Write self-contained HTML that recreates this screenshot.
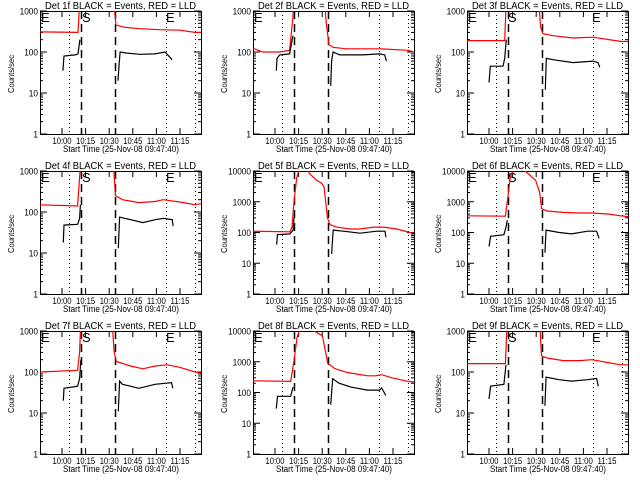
<!DOCTYPE html>
<html><head><meta charset="utf-8"><style>
body{margin:0;background:#fff;width:640px;height:480px;overflow:hidden}
svg{display:block;font-family:"Liberation Sans",sans-serif}
</style></head><body>
<svg id="c" width="640" height="480" viewBox="0 0 640 480"></svg>
<script>
const detNames=["1f","2f","3f","4f","5f","6f","7f","8f","9f"];
const yTops=[1000,1000,1000,1000,10000,10000,1000,10000,1000];
const xTickLabels=["10:00","10:15","10:30","10:45","11:00","11:15"];
const xTickMinutes=[0,15,30,45,60,75];
const dottedMinutes=[4.5,66,84.5];
const dashedMinutes=[12,33.5];
// times in minutes after 10:00; null value = gap
const redT1=[-14,10.2,11.4,null,33,34.3,40,49.6,62.3,75,84.5,88.4];
const redV1=[310,300,2000,null,1500,450,400,370,350,340,300,300];
const blkT1=[0.6,1.3,8.3,10.2,11.4,null,35.6,36.2,36.9,40,49.6,59,65.5,70];
const blkV1=[35,80,85,90,200,null,20,45,100,95,88,90,100,65];
const redT2=[-14,-13,-7.6,3,9.3,11.4,12.1,null,31.6,32.6,34.3,36.9,45.3,66.5,84.5,88.4];
const redV2=[120,120,100,100,110,700,1500,null,1500,500,150,130,120,120,110,100];
const blkT2=[0.8,1.3,3,9.3,11.4,null,35.4,36,36.9,41.1,55.9,66.5,69.7,70.8];
const blkV2=[35,70,85,90,250,null,15,60,100,85,85,90,85,60];
const redT3=[-14,10,11,null,31.8,32.8,34.3,40.7,53.4,66.1,84.1,88.4];
const redV3=[190,190,2000,null,1500,400,280,250,220,230,180,180];
const blkT3=[0,0.8,8.9,10,11,null,35.8,36.4,40.7,53.4,66.1,69.3,70.4];
const blkV3=[18,45,45,70,200,null,12,70,65,55,60,55,42];
const redT4=[-14,9.9,12,null,32.7,34,38.4,48.8,59.2,64.4,77.4,84.6,88.4];
const redV4=[150,140,2000,null,1500,250,200,170,180,200,170,150,160];
const blkT4=[0.8,1.3,9.9,11.2,11.7,null,35.8,36.6,43.6,51.4,59.2,64.4,70.1,70.6];
const blkV4=[18,48,50,70,150,null,13,75,65,55,65,70,65,45];
const redT5=[-14,9.5,10.8,12.1,13.8,15.5,20.1,22.2,26.5,29.7,31.2,32.2,33.3,35,39.2,47.7,54,62.5,68.9,77.4,85.8,88.4];
const redV5=[110,105,150,1000,6000,12000,12000,8000,5000,4000,3000,1000,300,180,150,130,130,150,150,130,100,95];
const blkT5=[1.1,1.5,9.5,11.5,12.1,null,36,37,43.4,54,64.6,69.9,70.5];
const blkV5=[40,85,90,120,300,null,20,120,110,95,110,110,70];
const redT6=[-14,10.4,11.6,13.5,15.6,21.2,25.2,29.6,32.2,33.4,36.9,47.2,57.6,65.4,75.7,83.5,88.4];
const redV6=[350,340,1000,6000,12000,12000,8000,5000,2000,600,500,450,430,430,400,350,330];
const blkT6=[0,1,9.5,10.8,11.6,null,35.5,36.3,44.6,52.4,62.7,68.4,70];
const blkV6=[35,75,85,150,250,null,22,120,100,90,110,110,65];
const redT7=[-14,9.9,11.2,12,null,31.9,33.2,34.5,43.6,51.4,59.2,67,74.8,84.6,88.4];
const redV7=[100,110,300,2000,null,1500,300,180,140,120,140,150,130,100,95];
const blkT7=[0.8,1.3,9.9,11.2,12,null,35.8,36.6,38.4,48.8,59.2,69.6,70.4];
const blkV7=[20,40,45,70,200,null,11,60,50,40,50,55,40];
const redT8=[-14,9.9,12,14,15.9,22.4,30.1,32.2,33.5,38,45.7,58.7,63.9,67.8,74.3,84.7,88.4];
const redV8=[240,230,1000,6000,12000,12000,7000,2000,900,600,450,350,350,380,300,230,220];
const blkT8=[0.8,1.6,9.9,11.5,null,35.4,36.7,40.6,48.3,58.7,66.5,67.8,70.4];
const blkV8=[30,75,75,150,null,40,280,200,150,120,120,140,80];
const redT9=[-14,10.4,11.6,null,32.2,33.4,36.9,47.2,57.6,65.4,75.7,83.5,88.4];
const redV9=[160,160,2000,null,1500,250,220,190,190,200,170,150,150];
const blkT9=[0,1,9.5,10.8,null,35.5,36.3,44.6,52.4,62.7,68.4,69.5];
const blkV9=[22,45,50,150,null,15,75,65,60,65,70,45];

const reds=[[redT1,redV1],[redT2,redV2],[redT3,redV3],[redT4,redV4],[redT5,redV5],[redT6,redV6],[redT7,redV7],[redT8,redV8],[redT9,redV9]];
const blks=[[blkT1,blkV1],[blkT2,blkV2],[blkT3,blkV3],[blkT4,blkV4],[blkT5,blkV5],[blkT6,blkV6],[blkT7,blkV7],[blkT8,blkV8],[blkT9,blkV9]];

const NS="http://www.w3.org/2000/svg";
const svg=document.getElementById('c');
function mk(tag,attrs,parent){const e=document.createElementNS(NS,tag);for(const k in attrs)e.setAttribute(k,attrs[k]);parent.appendChild(e);return e;}
const L=40,R=201,T=11,B=134;
const defs=mk('defs',{},svg);
for(let i=0;i<9;i++){
  const ox=(i%3)*213+(i%3==2?1:0), oy=Math.floor(i/3)*160;
  const cp=mk('clipPath',{id:'cp'+i},defs);
  mk('rect',{x:ox+L,y:oy+T,width:R-L,height:B-T},cp);
  const g=mk('g',{},svg);
  
  
  const top=yTops[i];
  const xs=t=>ox+62+t*23.6/15;
  const ys=v=>oy+B-(Math.log10(v)/Math.log10(top))*(B-T);
  const tt=mk('text',{x:ox+45,y:oy+9,'font-size':'10',fill:'#000',textLength:151,lengthAdjust:'spacingAndGlyphs'},g);
  tt.textContent='Det '+detNames[i]+' BLACK = Events, RED = LLD';
  
  
  const bx=mk('rect',{x:ox+L+.5,y:oy+T+.5,width:R-L,height:B-T,fill:'none',stroke:'#000','stroke-width':1},g);
  
  
  const nd=Math.round(Math.log10(top));
  for(let d=0;d<=nd;d++){
    const v=Math.pow(10,d), y=ys(v);
    mk('line',{x1:ox+L,x2:ox+L+7,y1:y,y2:y,stroke:'#000'},g);
    mk('line',{x1:ox+R-7,x2:ox+R,y1:y,y2:y,stroke:'#000'},g);
    const s=String(v);
    const lb=mk('text',{x:ox+L-2,y:y+3.5,'font-size':'9','text-anchor':'end',fill:'#000',textLength:s.length*4.6,lengthAdjust:'spacingAndGlyphs'},g);
    lb.textContent=s;
    
    
    if(d<nd)for(let m=2;m<10;m++){const ym=ys(v*m);
      mk('line',{x1:ox+L,x2:ox+L+3,y1:ym,y2:ym,stroke:'#000'},g);
      mk('line',{x1:ox+R-3,x2:ox+R,y1:ym,y2:ym,stroke:'#000'},g);}
  }
  const yl=mk('text',{x:0,y:0,'font-size':'8','text-anchor':'middle',fill:'#000',textLength:38,lengthAdjust:'spacingAndGlyphs',transform:`translate(${ox+14},${oy+74}) rotate(-90)`},g);
  yl.textContent='Counts/sec';
  
  
  xTickMinutes.forEach((m,k)=>{const x=xs(m);
    mk('line',{x1:x,x2:x,y1:oy+B,y2:oy+B-6,stroke:'#000'},g);
    mk('line',{x1:x,x2:x,y1:oy+T,y2:oy+T+6,stroke:'#000'},g);
    const lb=mk('text',{x:x,y:oy+B+10,'font-size':'9','text-anchor':'middle',fill:'#000',textLength:19,lengthAdjust:'spacingAndGlyphs'},g);
    lb.textContent=xTickLabels[k];
    
    
  });
  const xl=mk('text',{x:ox+63,y:oy+B+18,'font-size':'9.5',fill:'#000',textLength:116,lengthAdjust:'spacingAndGlyphs'},g);
  xl.textContent='Start Time (25-Nov-08 09:47:40)';
  
  
  dottedMinutes.forEach(m=>{const x=Math.round(xs(m))+.5;
    const l=mk('line',{x1:x,x2:x,y1:oy+T,y2:oy+B,stroke:'#000','stroke-dasharray':'1 3'},g);
    
    });
  dashedMinutes.forEach(m=>{const x=Math.round(xs(m))+.5;
    const l=mk('line',{x1:x,x2:x,y1:oy+T,y2:oy+B,stroke:'#000','stroke-width':1.5,'stroke-dasharray':'8 5'},g);
    
    });
  [['E',ox+L+1],['S',ox+Math.round(xs(12))+1],['E',ox+Math.round(xs(66))]].forEach(([s,x])=>{
    const tx=mk('text',{x:x,y:oy+T+11,'font-size':'13','font-weight':'normal',fill:'#000'},g);tx.textContent=s;
    
    });
  function path(T_,V_,col,name){let d='',pen=false;
    for(let k=0;k<T_.length;k++){if(T_[k]===null){pen=false;continue;}
      d+=(pen?'L':'M')+xs(T_[k]).toFixed(1)+' '+ys(V_[k]).toFixed(1);pen=true;}
    const p=mk('path',{d:d,fill:'none',stroke:col,'stroke-width':1.2,'clip-path':`url(#cp${i})`},g);
    
    }
  path(reds[i][0],reds[i][1],'#f00','lld-red-series');
  path(blks[i][0],blks[i][1],'#000','events-black-series');
}
</script>
</body></html>
